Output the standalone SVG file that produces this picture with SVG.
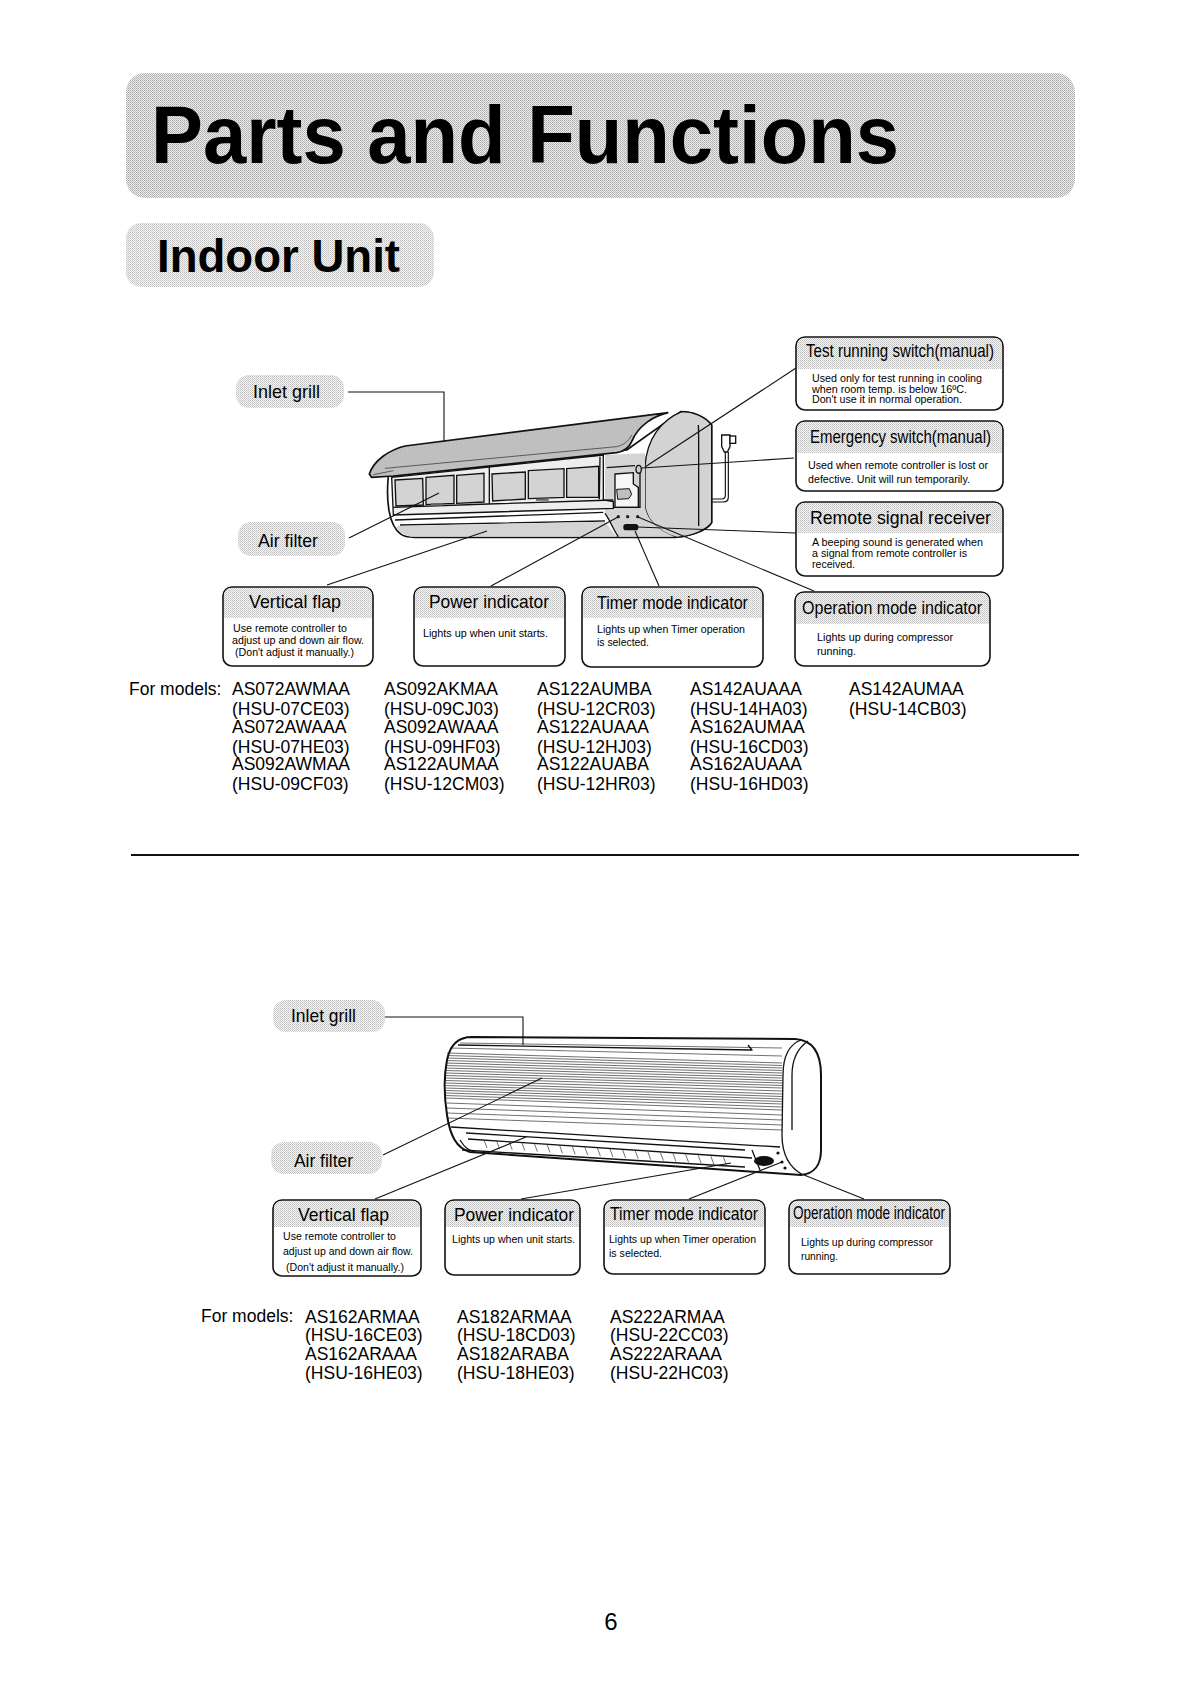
<svg xmlns="http://www.w3.org/2000/svg" width="1191" height="1684" viewBox="0 0 1191 1684">
<style>
text{font-family:"Liberation Sans",Arial,sans-serif;fill:#000}
.h{font-size:19px}
.b{font-size:10.5px}
.m{font-size:17.5px}
.box{fill:#fff;stroke:#111;stroke-width:1.6}
.ln{fill:none;stroke:#111;stroke-width:1.1}
.u{fill:none;stroke:#111;stroke-width:1.3;stroke-linejoin:round}
.uh{fill:none;stroke:#111;stroke-width:2;stroke-linejoin:round}
.t{fill:none;stroke:#333;stroke-width:.7}
</style>
<defs>
<pattern id="ht" width="2" height="2" patternUnits="userSpaceOnUse"><rect width="2" height="2" fill="#eee"/><rect width="1" height="1" fill="#aaa"/><rect x="1" y="1" width="1" height="1" fill="#bbb"/></pattern>
<pattern id="ht3" width="2" height="2" patternUnits="userSpaceOnUse"><rect width="2" height="2" fill="#f6f6f6"/><rect width="1" height="1" fill="#c0c0c0"/><rect x="1" y="1" width="1" height="1" fill="#d0d0d0"/></pattern>
<pattern id="ht2" width="2" height="2" patternUnits="userSpaceOnUse"><rect width="2" height="2" fill="#f6f6f6"/><rect width="1" height="1" fill="#a6a6a6"/><rect x="1" y="1" width="1" height="1" fill="#a6a6a6"/></pattern>
<pattern id="gr" width="4" height="3" patternUnits="userSpaceOnUse"><rect width="4" height="3" fill="#e6e6e6"/><rect width="4" height="1" fill="#777"/><rect x="1" y="1" width="1" height="1" fill="#aaa"/></pattern>
</defs>
<rect width="1191" height="1684" fill="#fff"/>

<g id="title-band"><rect x="126" y="73" width="949" height="125" rx="19" fill="url(#ht)"/>
<text x="151" y="163" font-size="81" font-weight="700" textLength="748" lengthAdjust="spacingAndGlyphs">Parts and Functions</text></g>
<g id="section-band"><rect x="126" y="223" width="308" height="64" rx="15" fill="url(#ht3)"/>
<text x="157" y="272" font-size="46" font-weight="700" textLength="243" lengthAdjust="spacingAndGlyphs">Indoor Unit</text></g>

<g id="unit-1" transform="translate(360 400) scale(.33333)">
<path d="M85 228C78 300 85 375 122 402C132 411 145 412 165 412L945 412C1000 408 1045 388 1055 368L1055 75C1035 50 1000 35 962 35L800 150L100 228Z" fill="#f1f1f1" class="uh" style="stroke-width:5"/>
<path d="M965 35C905 60 860 115 855 200L855 320C860 360 900 400 950 412C1000 408 1040 388 1055 368L1055 75C1035 50 1000 35 965 35Z" fill="url(#ht2)" stroke="#111" stroke-width="4"/>
<path d="M1015 75C1016 90 1016 110 1016 130L1016 378" fill="none" stroke="#111" stroke-width="4"/>
<path d="M735 340C750 360 760 390 775 410L945 410C900 395 860 360 855 320L855 160L735 165Z" fill="url(#ht)" stroke="none"/>
<path d="M105 360L730 337M120 375L735 363M735 340C750 360 760 390 775 410" fill="none" stroke="#111" stroke-width="4"/>
<path d="M110 378C110 390 130 408 160 410L770 410L735 365Z" fill="url(#ht)"/>
<path d="M95 232L730 165L730 300L760 305L760 325L100 345Z" fill="#eee" stroke="#111" stroke-width="4"/>
<path d="M105 240L188 235L190 315L108 318ZM198 232L282 226L282 310L198 314ZM290 226L372 220L372 306L290 310ZM396 222L496 216L496 297L398 303ZM505 212L612 206L612 292L505 296ZM620 206L716 199L716 292L620 292Z" fill="url(#ht2)" stroke="#111" stroke-width="4"/>
<path d="M105 222L188 216M198 215L282 208M290 208L372 200M396 198L496 188M505 184L612 177M620 172L725 165M375 198L388 198L388 310M100 322L385 312L760 300M720 170L718 298" fill="none" stroke="#111" stroke-width="4"/>
<path d="M212 310h38v7h-38zM528 296h38v6h-38z" fill="#666"/>
<path d="M28 222C42 180 88 150 135 138L925 38C885 46 835 75 815 125C805 148 790 155 770 158L100 228L35 232Z" fill="url(#gr)" stroke="#111" stroke-width="5"/>
<path d="M75 205L770 140C790 135 805 125 815 105M40 224L100 212" fill="none" stroke="#444" stroke-width="2.5"/>
<path d="M765 222L820 218L820 252L835 262L835 322L765 322Z" fill="#f6f6f6" stroke="#111" stroke-width="4"/>
<path d="M770 268L808 266L815 283L806 296L773 298Z" fill="url(#gr)" stroke="#111" stroke-width="3"/>
<path d="M740 203L825 197M840 205L840 322L760 322" fill="none" stroke="#111" stroke-width="4"/>
<ellipse cx="836" cy="208" rx="8" ry="12" fill="#ccc" stroke="#111" stroke-width="4"/>
<circle cx="775" cy="350" r="5" fill="#222"/><circle cx="803" cy="350" r="5" fill="#222"/><circle cx="833" cy="350" r="5" fill="#222"/>
<rect x="790" y="372" width="45" height="19" rx="8" fill="#111"/>
<path d="M1056 297L1085 297Q1096 297 1096 285L1096 155M1056 306L1090 306Q1105 306 1105 292L1105 155" fill="none" stroke="#111" stroke-width="3.5"/>
<path d="M1085 105L1110 105L1110 140L1102 156L1093 156L1085 140Z" fill="#fff" stroke="#111" stroke-width="4"/>
<rect x="1110" y="108" width="17" height="22" fill="#fff" stroke="#111" stroke-width="4"/>
</g>

<g id="connectors-1">
<path class="ln" d="M348 392H444V442"/>
<path class="ln" d="M349 538L439 493"/>
<path class="ln" d="M327 585L487 531"/>
<path class="ln" d="M491 586L618 517"/>
<path class="ln" d="M659 586L635 531"/>
<path class="ln" d="M814 591L638 517"/>
<path class="ln" d="M796 533L637 527"/>
<path class="ln" d="M794 458L642 468"/>
<path class="ln" d="M796 368L645 467"/>
</g>

<g id="inlet-grill-1"><rect x="236" y="375" width="108" height="33" rx="13" fill="url(#ht3)"/><text class="h" x="253" y="398" textLength="67" lengthAdjust="spacingAndGlyphs">Inlet grill</text></g>
<g id="air-filter-1"><rect x="238" y="522" width="107" height="34" rx="13" fill="url(#ht3)"/><text class="h" x="258" y="547" textLength="60" lengthAdjust="spacingAndGlyphs">Air filter</text></g>

<g id="test-switch"><rect class="box" x="796" y="337" width="207" height="73" rx="9"/><path d="M797 369V346q0-8 8-8H994q8 0 8 8V369Z" fill="url(#ht3)"/>
<text class="h" x="806" y="357" textLength="188" lengthAdjust="spacingAndGlyphs">Test running switch(manual)</text>
<text class="b" x="812" y="382" textLength="170" lengthAdjust="spacingAndGlyphs">Used only for test running in cooling</text>
<text class="b" x="812" y="393" textLength="155" lengthAdjust="spacingAndGlyphs">when room temp.  is below 16ºC.</text>
<text class="b" x="812" y="403" textLength="150" lengthAdjust="spacingAndGlyphs">Don't use it in normal operation.</text></g>

<g id="emergency-switch"><rect class="box" x="796" y="421" width="207" height="70" rx="9"/><path d="M797 453V430q0-8 8-8H994q8 0 8 8V453Z" fill="url(#ht3)"/>
<text class="h" x="810" y="443" textLength="181" lengthAdjust="spacingAndGlyphs">Emergency switch(manual)</text>
<text class="b" x="808" y="469" textLength="180" lengthAdjust="spacingAndGlyphs">Used when remote controller is lost or</text>
<text class="b" x="808" y="483" textLength="162" lengthAdjust="spacingAndGlyphs">defective. Unit will run temporarily.</text></g>

<g id="remote-receiver"><rect class="box" x="796" y="502" width="207" height="74" rx="9"/><path d="M797 533V511q0-8 8-8H994q8 0 8 8V533Z" fill="url(#ht3)"/>
<text class="h" x="810" y="524" textLength="181" lengthAdjust="spacingAndGlyphs">Remote signal receiver</text>
<text class="b" x="812" y="546" textLength="171" lengthAdjust="spacingAndGlyphs">A beeping sound is generated when</text>
<text class="b" x="812" y="557" textLength="155" lengthAdjust="spacingAndGlyphs">a signal from remote controller is</text>
<text class="b" x="812" y="568" textLength="43" lengthAdjust="spacingAndGlyphs">received.</text></g>

<g id="vertical-flap-1"><rect class="box" x="223" y="587" width="150" height="79" rx="9"/><path d="M224 618V596q0-8 8-8H364q8 0 8 8V618Z" fill="url(#ht3)"/>
<text class="h" x="249" y="608" textLength="92" lengthAdjust="spacingAndGlyphs">Vertical flap</text>
<text class="b" x="233" y="632" textLength="114" lengthAdjust="spacingAndGlyphs">Use remote controller to</text>
<text class="b" x="232" y="644" textLength="132" lengthAdjust="spacingAndGlyphs">adjust up and down air flow.</text>
<text class="b" x="235" y="656" textLength="119" lengthAdjust="spacingAndGlyphs">(Don't adjust it manually.)</text></g>

<g id="power-indicator-1"><rect class="box" x="414" y="587" width="151" height="79" rx="9"/><path d="M415 618V596q0-8 8-8H556q8 0 8 8V618Z" fill="url(#ht3)"/>
<text class="h" x="429" y="608" textLength="120" lengthAdjust="spacingAndGlyphs">Power indicator</text>
<text class="b" x="423" y="637" textLength="125" lengthAdjust="spacingAndGlyphs">Lights up when unit starts.</text></g>

<g id="timer-indicator-1"><rect class="box" x="582" y="587" width="181" height="80" rx="9"/><path d="M583 618V596q0-8 8-8H754q8 0 8 8V618Z" fill="url(#ht3)"/>
<text class="h" x="597" y="609" textLength="151" lengthAdjust="spacingAndGlyphs">Timer mode indicator</text>
<text class="b" x="597" y="633" textLength="148" lengthAdjust="spacingAndGlyphs">Lights up when Timer operation</text>
<text class="b" x="597" y="646" textLength="52" lengthAdjust="spacingAndGlyphs">is selected.</text></g>

<g id="operation-indicator-1"><rect class="box" x="795" y="592" width="195" height="74" rx="9"/><path d="M796 624V601q0-8 8-8H981q8 0 8 8V624Z" fill="url(#ht3)"/>
<text class="h" x="802" y="614" textLength="180" lengthAdjust="spacingAndGlyphs">Operation mode indicator</text>
<text class="b" x="817" y="641" textLength="136" lengthAdjust="spacingAndGlyphs">Lights up during compressor</text>
<text class="b" x="817" y="655" textLength="39" lengthAdjust="spacingAndGlyphs">running.</text></g>

<g id="models-1">
<text class="m" x="129" y="695">For models:</text>
<text class="m" x="232" y="695">AS072AWMAA</text><text class="m" x="232" y="715">(HSU-07CE03)</text><text class="m" x="232" y="733">AS072AWAAA</text><text class="m" x="232" y="753">(HSU-07HE03)</text><text class="m" x="232" y="770">AS092AWMAA</text><text class="m" x="232" y="790">(HSU-09CF03)</text>
<text class="m" x="384" y="695">AS092AKMAA</text><text class="m" x="384" y="715">(HSU-09CJ03)</text><text class="m" x="384" y="733">AS092AWAAA</text><text class="m" x="384" y="753">(HSU-09HF03)</text><text class="m" x="384" y="770">AS122AUMAA</text><text class="m" x="384" y="790">(HSU-12CM03)</text>
<text class="m" x="537" y="695">AS122AUMBA</text><text class="m" x="537" y="715">(HSU-12CR03)</text><text class="m" x="537" y="733">AS122AUAAA</text><text class="m" x="537" y="753">(HSU-12HJ03)</text><text class="m" x="537" y="770">AS122AUABA</text><text class="m" x="537" y="790">(HSU-12HR03)</text>
<text class="m" x="690" y="695">AS142AUAAA</text><text class="m" x="690" y="715">(HSU-14HA03)</text><text class="m" x="690" y="733">AS162AUMAA</text><text class="m" x="690" y="753">(HSU-16CD03)</text><text class="m" x="690" y="770">AS162AUAAA</text><text class="m" x="690" y="790">(HSU-16HD03)</text>
<text class="m" x="849" y="695">AS142AUMAA</text><text class="m" x="849" y="715">(HSU-14CB03)</text>
</g>

<path id="divider" d="M131 855H1079" stroke="#111" stroke-width="2" fill="none"/>

<g id="unit-2">
<path class="t" d="M447 1053L782 1063M447 1055.500L782 1065.500M447 1058L782 1068M446 1060.500L782 1070.500M446 1063L782 1073M446 1065.500L782 1075.500M446 1068L782 1078M446 1070.500L782 1080.500M446 1073L782 1083M446 1075.500L782 1085.500M446 1078L782 1088M446 1080.500L782 1091M446 1083L782 1094M446 1085.500L782 1096.500M446 1088L782 1099M446 1090.500L782 1101.500M446 1093L782 1104M446 1095.500L782 1107M446 1098L782 1110M447 1103L782 1115M447 1108L782 1120M447 1113L782 1125M447 1118L782 1130M460 1043L782 1048M450 1048L782 1056"/>
<path class="u" d="M451 1127L780 1147M466 1133L745 1150M468 1139L752 1158M462 1150L745 1167"/>
<path class="t" d="M484 1140l3 8m9.600 -7.100l3 8m9.600 -7.100l3 8m9.600 -7.100l3 8m9.600 -7.100l3 8m9.600 -7.100l3 8m9.600 -7.100l3 8m9.600 -7.100l3 8m9.600 -7.100l3 8m9.600 -7.100l3 8m9.600 -7.100l3 8m9.600 -7.100l3 8m9.600 -7.100l3 8m9.600 -7.100l3 8m9.600 -7.100l3 8m9.600 -7.100l3 8m9.600 -7.100l3 8m9.600 -7.100l3 8m9.600 -7.100l3 8m9.600 -7.100l3 8"/>
<path class="uh" d="M472 1037L795 1039C812 1040 821 1052 821 1075L821 1150C821 1165 814 1174 801 1175L470 1152C456 1148 450 1135 447 1115C444 1095 444 1075 447 1060C450 1045 458 1037 472 1037Z"/>
<path class="u" d="M801 1040C788 1045 783 1057 783 1075L782 1135C782 1155 790 1168 803 1175M808 1041C798 1048 792 1058 792 1075L792 1130"/>
<path class="u" d="M458 1045L752 1050L748 1045M460 1140C465 1148 468 1150 475 1152M752 1150L760 1170"/>
<ellipse cx="764" cy="1161" rx="10" ry="5" fill="#111"/>
<circle cx="778" cy="1153" r="1.600" fill="#111"/><circle cx="782" cy="1162" r="1.600" fill="#111"/><circle cx="785" cy="1168" r="1.600" fill="#111"/>
</g>

<g id="connectors-2">
<path class="ln" d="M385 1017H523V1045"/>
<path class="ln" d="M383 1155L542 1078"/>
<path class="ln" d="M375 1199L526 1137"/>
<path class="ln" d="M521 1199L731 1163"/>
<path class="ln" d="M689 1199L782 1162"/>
<path class="ln" d="M864 1199L804 1175"/>
</g>

<g id="inlet-grill-2"><rect x="273" y="1000" width="112" height="32" rx="13" fill="url(#ht3)"/><text class="h" x="291" y="1022" textLength="65" lengthAdjust="spacingAndGlyphs">Inlet grill</text></g>
<g id="air-filter-2"><rect x="271" y="1142" width="111" height="32" rx="13" fill="url(#ht3)"/><text class="h" x="294" y="1167" textLength="59" lengthAdjust="spacingAndGlyphs">Air filter</text></g>

<g id="vertical-flap-2"><rect class="box" x="273" y="1200" width="148" height="76" rx="9"/><path d="M274 1227V1209q0-8 8-8H412q8 0 8 8V1227Z" fill="url(#ht3)"/>
<text class="h" x="298" y="1221" textLength="91" lengthAdjust="spacingAndGlyphs">Vertical flap</text>
<text class="b" x="283" y="1240" textLength="113" lengthAdjust="spacingAndGlyphs">Use remote controller to</text>
<text class="b" x="283" y="1255" textLength="130" lengthAdjust="spacingAndGlyphs">adjust up and down air flow.</text>
<text class="b" x="286" y="1271" textLength="118" lengthAdjust="spacingAndGlyphs">(Don't adjust it manually.)</text></g>

<g id="power-indicator-2"><rect class="box" x="445" y="1200" width="135" height="75" rx="9"/><path d="M446 1227V1209q0-8 8-8H571q8 0 8 8V1227Z" fill="url(#ht3)"/>
<text class="h" x="454" y="1221" textLength="120" lengthAdjust="spacingAndGlyphs">Power indicator</text>
<text class="b" x="452" y="1243" textLength="123" lengthAdjust="spacingAndGlyphs">Lights up when unit starts.</text></g>

<g id="timer-indicator-2"><rect class="box" x="604" y="1200" width="161" height="74" rx="9"/><path d="M605 1227V1209q0-8 8-8H756q8 0 8 8V1227Z" fill="url(#ht3)"/>
<text class="h" x="610" y="1220" textLength="148" lengthAdjust="spacingAndGlyphs">Timer mode indicator</text>
<text class="b" x="609" y="1243" textLength="147" lengthAdjust="spacingAndGlyphs">Lights up when Timer operation</text>
<text class="b" x="609" y="1257" textLength="53" lengthAdjust="spacingAndGlyphs">is selected.</text></g>

<g id="operation-indicator-2"><rect class="box" x="789" y="1200" width="161" height="74" rx="9"/><path d="M790 1227V1209q0-8 8-8H941q8 0 8 8V1227Z" fill="url(#ht3)"/>
<text class="h" x="793" y="1219" textLength="152" lengthAdjust="spacingAndGlyphs">Operation mode indicator</text>
<text class="b" x="801" y="1246" textLength="132" lengthAdjust="spacingAndGlyphs">Lights up during compressor</text>
<text class="b" x="801" y="1260" textLength="37" lengthAdjust="spacingAndGlyphs">running.</text></g>

<g id="models-2">
<text class="m" x="201" y="1322">For models:</text>
<text class="m" x="305" y="1323">AS162ARMAA</text><text class="m" x="305" y="1341">(HSU-16CE03)</text><text class="m" x="305" y="1360">AS162ARAAA</text><text class="m" x="305" y="1379">(HSU-16HE03)</text>
<text class="m" x="457" y="1323">AS182ARMAA</text><text class="m" x="457" y="1341">(HSU-18CD03)</text><text class="m" x="457" y="1360">AS182ARABA</text><text class="m" x="457" y="1379">(HSU-18HE03)</text>
<text class="m" x="610" y="1323">AS222ARMAA</text><text class="m" x="610" y="1341">(HSU-22CC03)</text><text class="m" x="610" y="1360">AS222ARAAA</text><text class="m" x="610" y="1379">(HSU-22HC03)</text>
</g>
<text id="page-number" x="611" y="1630" font-size="24" text-anchor="middle">6</text>
</svg>
